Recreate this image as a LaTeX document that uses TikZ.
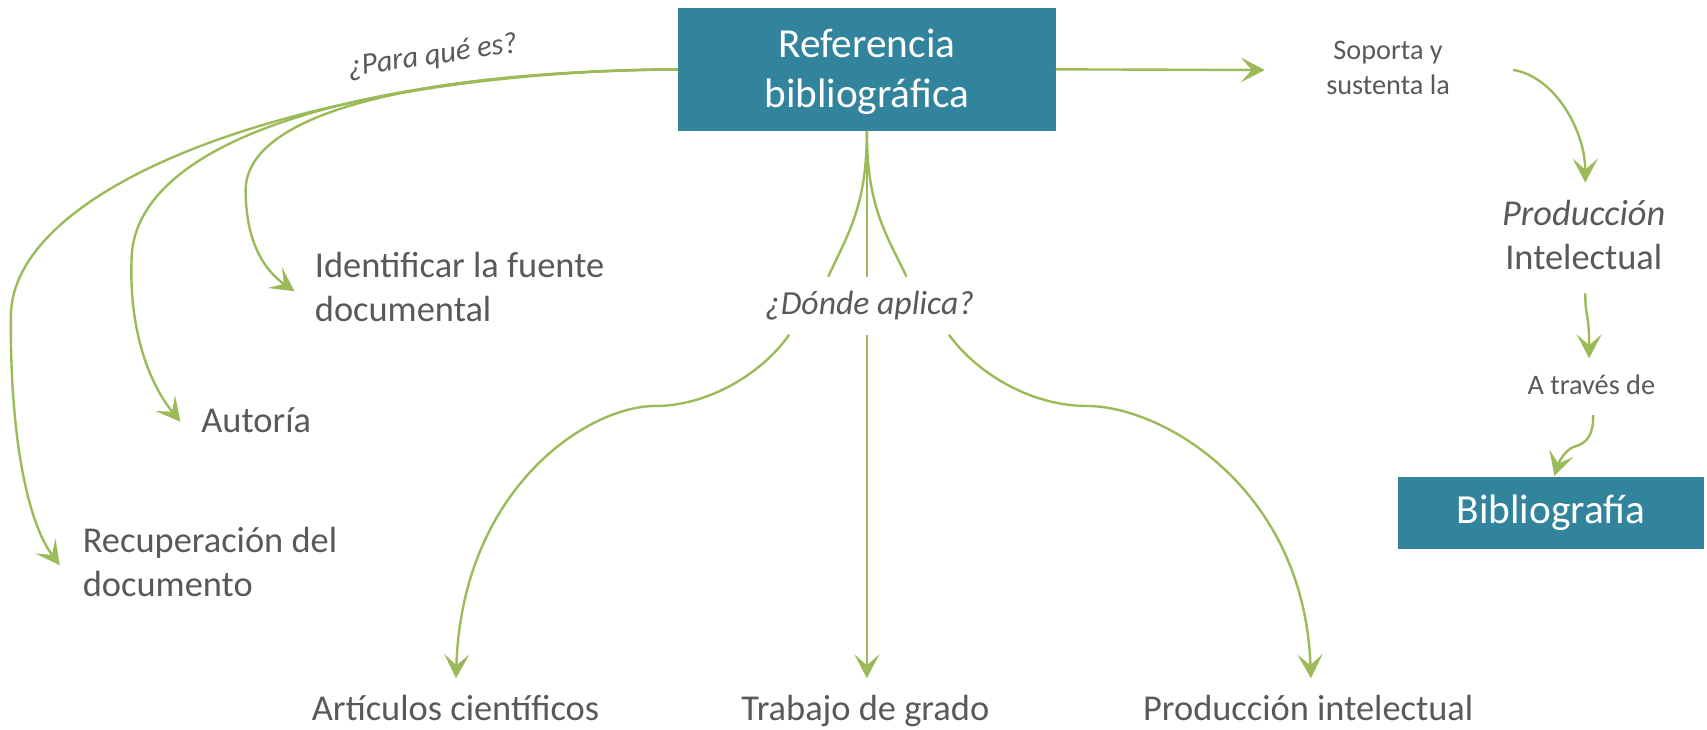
\documentclass[tikz,border=0pt]{standalone}
\usepackage{fontspec}
\setmainfont{Carlito}
\usetikzlibrary{arrows.meta}
\definecolor{boxteal}{HTML}{31849B}
\definecolor{leaf}{HTML}{9BBB59}
\definecolor{ink}{HTML}{595959}
\begin{document}
\begin{tikzpicture}[x=1pt,y=-1pt,
  conn/.style={draw=leaf,line width=2.2pt},
  arr/.style={conn,-{Stealth[length=22pt,width=23pt,inset=10pt]}},
  lbl/.style={text=ink,inner sep=0pt,font=\fontsize{33.5}{41}\selectfont},
  small/.style={text=ink,inner sep=0pt,font=\fontsize{26}{32}\selectfont,align=center},
  box/.style={fill=boxteal,text=white,inner sep=0pt,font=\fontsize{38}{46}\selectfont,align=center}]
\useasboundingbox (0,0) rectangle (1570.4,670.7);

% boxes
\node[box,minimum width=347.4pt,minimum height=112.8pt] (ref) at (797.5,63.8) {\rule{0pt}{31pt}Referencia\\bibliográfica};
\node[box,minimum width=281pt,minimum height=66.3pt] (bib) at (1427,471.9) {Bibliografía};

% labels
\node[small,rotate=8,font=\fontsize{28}{32}\selectfont] (para) at (398,52) {\itshape ¿Para qué es?};
\node[lbl,align=left,anchor=base west] (idf) at (289.5,296) {Identificar la fuente\\documental};
\node[lbl,anchor=base west] (aut) at (185,398) {Autoría};
\node[lbl,align=left,anchor=base west] (rec) at (76,549) {Recuperación del\\documento};
\node[lbl,anchor=base,font=\fontsize{31}{38}\selectfont\itshape] (donde) at (800,289.6) {¿Dónde aplica?};
\node[lbl,anchor=base] (art) at (419,663) {Artículos científicos};
\node[lbl,anchor=base] (tra) at (796,663) {Trabajo de grado};
\node[lbl,anchor=base] (pro) at (1203.5,663) {Producción intelectual};
\node[small,anchor=base] (sop) at (1277,86.8) {Soporta y\\sustenta la};
\node[lbl,align=center,anchor=base] (pint) at (1457,248) {\textit{Producción}\\Intelectual};
\node[small,anchor=base] (atr) at (1464,362.5) {A través de};

% connector end points
\coordinate (t1) at (271,268);
\coordinate (t2) at (166,388);
\coordinate (t3) at (55,520);
\coordinate (dl) at (762,254.5);
\coordinate (dm) at (797.5,254.5);
\coordinate (dr) at (834,254.5);
\coordinate (sl) at (726,308);
\coordinate (sm) at (797.5,308);
\coordinate (sr) at (873,308);
\coordinate (ta) at (419.5,624);
\coordinate (tt) at (797.5,624);
\coordinate (tp) at (1206,624);
\coordinate (ts) at (1163.5,64.4);
\coordinate (s1) at (1392,64.4);
\coordinate (tpi) at (1458.4,168);
\coordinate (p1) at (1458.4,270);
\coordinate (tat) at (1462,329.6);
\coordinate (a1) at (1465.6,382);
\coordinate (tb) at (1430,438);

% left bundle
\draw[arr] (ref.west) .. controls (380,66) and (226,105) .. (226,175)
  .. controls (226,225) and (245,250) .. (t1);
\draw[arr] (ref.west) .. controls (330,66) and (121,130) .. (121,240)
  .. controls (119,300) and (135,350) .. (t2);
\draw[arr] (ref.west) .. controls (280,66) and (12,170) .. (10,290)
  .. controls (9,400) and (25,480) .. (t3);

% middle to "Donde aplica"
\draw[conn] (ref.south) .. controls (797.5,190) and (780,215) .. (dl);
\draw[conn] (ref.south) -- (dm);
\draw[conn] (ref.south) .. controls (797.5,190) and (815,215) .. (dr);

% from "Donde aplica" downwards
\draw[arr] (sl) .. controls (700,345) and (650,373.5) .. (603,373.5)
  .. controls (540,373.5) and (425,450) .. (ta);
\draw[arr] (sm) -- (tt);
\draw[arr] (sr) .. controls (900,345) and (950,373.5) .. (1000,373.5)
  .. controls (1070,373.5) and (1200,450) .. (tp);

% right chain
\draw[arr] (ref.east) -- (ts);
\draw[arr] (s1) .. controls (1430,70) and (1458.4,120) .. (tpi);
\draw[arr] (p1) .. controls (1458.4,292) and (1462,288) .. (tat);
\draw[arr] (a1) .. controls (1466,400) and (1460,408) .. (1448,411)
  .. controls (1440,414) and (1434,425) .. (tb);
\end{tikzpicture}
\end{document}
